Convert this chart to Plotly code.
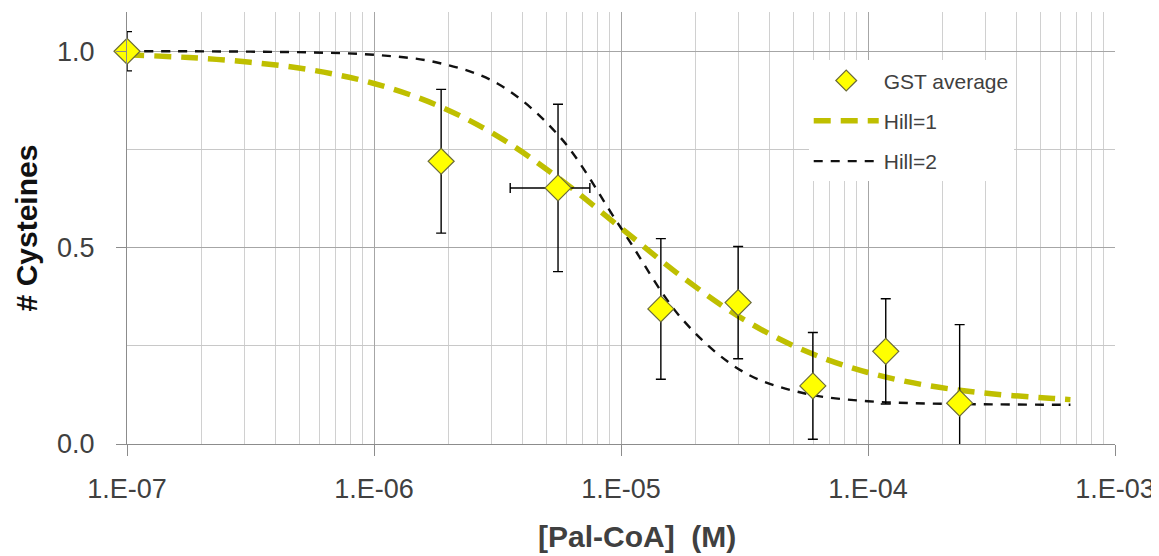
import plotly.graph_objects as go

# GST average data points
conc = [1.0e-7, 1.87e-6, 5.56e-6, 1.45e-5, 2.98e-5, 5.98e-5, 1.18e-4, 2.35e-4]
cys = [1.0, 0.72, 0.652, 0.344, 0.36, 0.148, 0.236, 0.104]
cys_err = [0.05, 0.183, 0.213, 0.179, 0.143, 0.136, 0.134, 0.2]
conc_err_plus = [0, 0, 1.92e-6, 0, 0, 0, 0, 0]
conc_err_minus = [0, 0, 2.0e-6, 0, 0, 0, 0, 0]

# fitted curves
curve_x = [1.0e-7, 1.78e-7, 3.16e-7, 5.62e-7, 1.0e-6, 1.78e-6, 3.16e-6, 5.62e-6,
           1.0e-5, 1.78e-5, 3.16e-5, 5.62e-5, 1.0e-4, 1.78e-4, 3.16e-4, 5.62e-4, 6.6e-4]
hill1 = [0.991, 0.984, 0.972, 0.952, 0.918, 0.864, 0.784, 0.676,
         0.55, 0.424, 0.316, 0.236, 0.182, 0.148, 0.128, 0.116, 0.113]
hill2 = [1.0, 1.0, 0.999, 0.997, 0.991, 0.972, 0.918, 0.784,
         0.55, 0.316, 0.182, 0.128, 0.109, 0.103, 0.101, 0.100, 0.100]

x_tickvals = [1e-7, 1e-6, 1e-5, 1e-4, 1e-3]
x_ticktext = ["1.E-07", "1.E-06", "1.E-05", "1.E-04", "1.E-03"]
y_tickvals = [0.0, 0.5, 1.0]
y_ticktext = ["0.0", "0.5", "1.0"]

FONT = "Liberation Sans, Arial, sans-serif"
TXT = "#404040"

fig = go.Figure()

fig.add_trace(go.Scatter(
    x=curve_x, y=hill2, mode="lines", name="Hill=2", legendgroup="c", legendrank=3,
    line=dict(color="#111111", width=2.4, dash="9px,8px", shape="spline"),
    cliponaxis=False,
))
fig.add_trace(go.Scatter(
    x=curve_x, y=hill1, mode="lines", name="Hill=1", legendgroup="b", legendrank=2,
    line=dict(color="#BFBF00", width=5.5, dash="17px,10px", shape="spline"),
    cliponaxis=False,
))
fig.add_trace(go.Scatter(
    x=conc, y=cys, mode="markers", name="GST average", legendgroup="a", legendrank=1,
    marker=dict(symbol="diamond", size=20, color="#FFFF00",
                line=dict(color="#6B6B3A", width=1.2)),
    error_y=dict(type="data", array=cys_err, color="black", thickness=1.4, width=5),
    error_x=dict(type="data", array=conc_err_plus, arrayminus=conc_err_minus,
                 color="black", thickness=1.4, width=5),
    cliponaxis=False,
))

fig.update_layout(
    width=1151, height=548,
    margin=dict(l=119, r=44, t=4, b=112),
    paper_bgcolor="white", plot_bgcolor="white",
    showlegend=True,
    legend=dict(
        x=0.69, y=0.888, xanchor="left", yanchor="top",
        bgcolor="white", borderwidth=0,
        font=dict(family=FONT, size=21, color=TXT),
        traceorder="grouped", itemwidth=65, tracegroupgap=10,
    ),
    font=dict(family=FONT, color=TXT),
    annotations=[dict(
        text="<b>[Pal-CoA]&nbsp; (M)</b>", xref="paper", yref="paper",
        x=0.516, y=-0.215, xanchor="center", yanchor="middle", showarrow=False,
        font=dict(family=FONT, size=30, color=TXT),
    )],
)

fig.update_xaxes(
    type="log", range=[-7, -3],
    tickvals=x_tickvals, ticktext=x_ticktext,
    tickfont=dict(family=FONT, size=27, color=TXT),
    ticks="outside", ticklen=11, tickcolor="#8C8C8C", ticklabelstandoff=9,
    showgrid=True, gridcolor="#A6A6A6", gridwidth=1.2,
    minor=dict(dtick="D1", showgrid=True, gridcolor="#D0D0D0", gridwidth=1, ticks=""),
    showline=True, linecolor="#8C8C8C", linewidth=1.2,
    zeroline=False,
)
fig.update_yaxes(
    range=[0, 1.1],
    tickvals=y_tickvals, ticktext=y_ticktext,
    tickfont=dict(family=FONT, size=27, color=TXT),
    ticks="outside", ticklen=10, tickcolor="#8C8C8C", ticklabelstandoff=16,
    showgrid=True, gridcolor="#A6A6A6", gridwidth=1.2,
    minor=dict(dtick=0.25, showgrid=True, gridcolor="#C8C8C8", gridwidth=1, ticks=""),
    showline=True, linecolor="#8C8C8C", linewidth=1.2,
    zeroline=False,
    title=dict(text="<b># Cysteines</b>", font=dict(family=FONT, size=30, color="#111111"),
               standoff=10),
)

fig.write_html("out.html")
